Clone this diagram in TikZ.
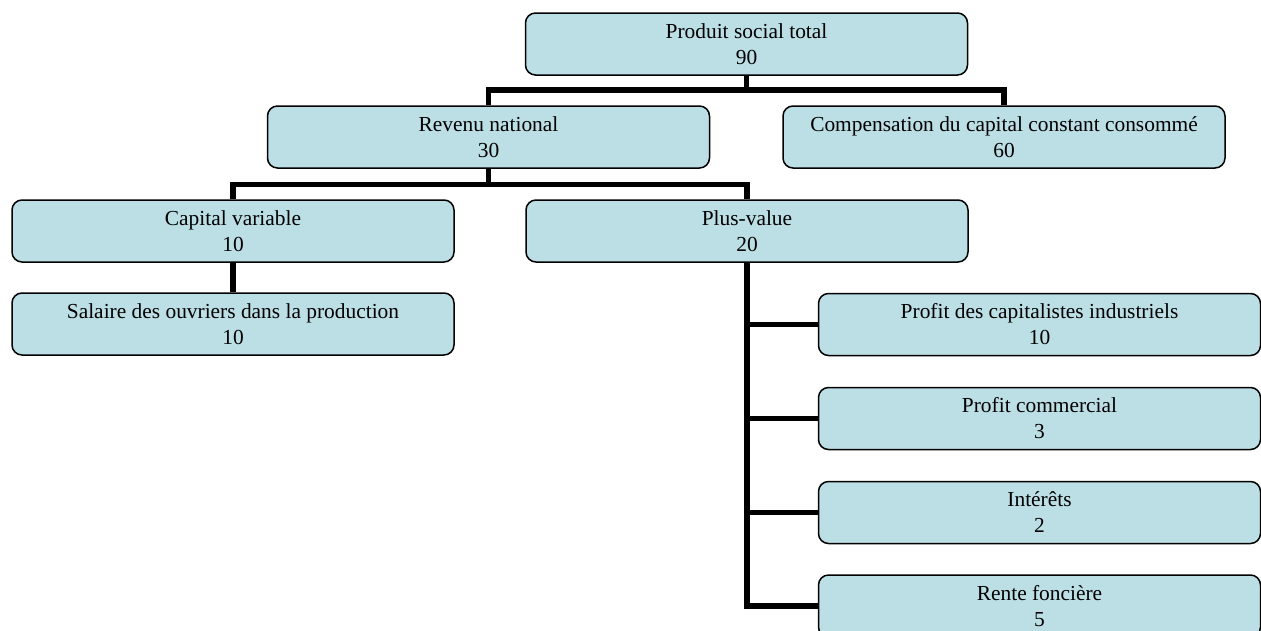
\documentclass[tikz,border=0pt]{standalone}
\usepackage{fontspec}
\setmainfont{Liberation Serif}
\definecolor{boxfill}{RGB}{188,223,229}
\tikzset{
  box/.style={draw=black, line width=1.5pt, fill=boxfill, rounded corners=10pt,
    minimum width=442pt, minimum height=62pt, inner sep=0pt, align=center,
    font=\fontsize{21.4pt}{26pt}\selectfont},
  conn/.style={draw=black, line width=5.5pt, line join=miter}
}
\begin{document}
\begin{tikzpicture}[x=1pt,y=-1pt]
\useasboundingbox (0,0) rectangle (1261,630);
\begin{scope}
\clip (0,0) rectangle (1261,630);
% connectors first
\coordinate (j1) at (746.5,90);
\coordinate (j2) at (490,184.5);
\node[box] (prod) at (746.5,44) {Produit social total\\90};
\node[box] (rev) at (488.5,137) {Revenu national\\30};
\node[box] (comp) at (1004,137) {Compensation du capital constant consommé\\60};
\node[box] (cap) at (233,231) {Capital variable\\10};
\node[box] (pv) at (747,231) {Plus-value\\20};
\node[box] (sal) at (233,324) {Salaire des ouvriers dans la production\\10};
\node[box] (pci) at (1039.5,324.5) {Profit des capitalistes industriels\\10};
\node[box] (pcom) at (1039.5,418.5) {Profit commercial\\3};
\node[box] (int) at (1039.5,512.5) {Intérêts\\2};
\node[box] (rente) at (1039.5,606) {Rente foncière\\5};
\path[conn] (prod.south) -- (j1);
\path[conn] (rev.north) |- (j1) -| (comp.north);
\path[conn] (rev.south) -- (rev.south |- j2);
\path[conn] (cap.north) |- (rev.south |- j2) -| (pv.north);
\path[conn] (cap.south) -- (sal.north);
\path[conn] (pv.south) |- (rente.west);
\path[conn] (pv.south |- pci.west) -- (pci.west);
\path[conn] (pv.south |- pcom.west) -- (pcom.west);
\path[conn] (pv.south |- int.west) -- (int.west);
\end{scope}
\end{tikzpicture}
\end{document}
